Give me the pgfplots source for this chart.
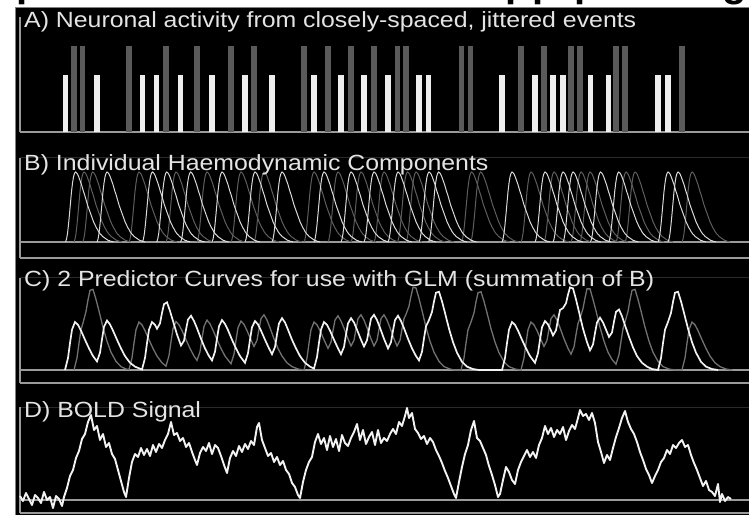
\documentclass[border=0pt]{standalone}
\usepackage{fontspec}
\setmainfont{Liberation Sans}
\newfontfamily\titlefont{Liberation Sans}[FakeStretch=1.13]
\usepackage{pgfplots}
\usepackage{pgfplotstable}
\pgfplotsset{compat=1.18}
\definecolor{barwhite}{HTML}{EEEEEE}
\definecolor{bargray}{HTML}{5A5A5A}
\definecolor{axgray}{HTML}{9A9A9A}
\definecolor{faint}{HTML}{2A2A2A}
\definecolor{curvewhite}{HTML}{DADADA}
\definecolor{curvegray}{HTML}{5E5E5E}
\definecolor{sumwhite}{HTML}{F2F2F2}
\definecolor{sumgray}{HTML}{727272}
\definecolor{titlecol}{HTML}{E4E4E4}

% single haemodynamic response shape (offset in px after onset, relative amplitude)
\pgfplotstableread{
d f
0 0.00
1 0.04
2 0.12
3 0.25
4 0.40
5 0.56
6 0.72
7 0.84
8 0.93
9 0.98
10 1.00
11 0.99
12 0.97
13 0.94
14 0.90
15 0.86
16 0.82
17 0.77
18 0.72
19 0.68
20 0.63
21 0.58
22 0.53
23 0.49
24 0.45
25 0.41
26 0.37
27 0.33
28 0.29
29 0.26
30 0.23
31 0.20
32 0.18
33 0.15
34 0.13
35 0.11
36 0.10
37 0.08
38 0.07
39 0.06
40 0.05
41 0.04
42 0.03
43 0.02
44 0.02
45 0.01
46 0.01
47 0.005
48 0.00
}\hrf

\pgfplotstableread{
x h
20 4
23 -1
26 7
29 1
32 -5
35 5
38 2
41 -3
44 8
47 0
50 3
53 -8
56 4
59 1
62 -6
64 3
67 12
70 24
73 30
76 42
79 49
82 61
85 66
88 78
91 85
94 70
97 74
100 60
103 66
106 53
109 57
112 46
115 41
118 30
121 19
124 8
126 3
129 22
132 38
135 46
138 43
141 52
144 45
147 51
150 44
153 55
156 48
159 56
162 52
165 60
168 66
171 78
174 65
177 67
180 59
183 62
186 53
189 57
192 48
195 40
197 35
200 47
203 53
206 49
209 57
212 46
215 55
218 52
221 44
224 35
227 27
230 42
233 49
236 44
239 54
242 48
245 56
248 51
251 59
254 55
257 73
259 77
262 60
265 52
268 44
271 47
274 38
277 43
280 35
283 39
286 30
289 26
292 17
295 13
298 5
300 2
303 18
306 30
309 38
312 43
315 58
318 66
321 56
324 62
327 50
330 64
333 53
336 61
339 49
342 65
345 57
348 54
351 62
354 68
357 76
360 60
363 70
366 56
369 63
372 68
375 55
378 70
381 57
384 62
387 59
390 66
393 71
396 66
399 78
402 74
405 84
407 92
409 82
412 87
415 71
418 67
421 61
424 64
427 56
430 62
433 58
436 50
439 44
442 37
445 29
448 22
451 14
454 6
456 2
459 18
462 33
465 46
468 55
471 70
474 79
477 62
480 59
483 52
486 45
489 34
492 25
495 15
498 3
500 6
503 20
506 33
509 28
512 20
515 16
518 30
521 38
524 44
527 50
530 43
533 48
536 42
539 55
542 62
545 74
548 66
551 72
554 63
557 70
560 66
563 73
566 60
569 69
572 75
575 71
578 82
580 90
583 84
586 86
589 80
592 87
595 77
598 58
601 48
604 37
607 45
610 40
613 52
616 63
619 72
622 82
625 89
628 78
631 71
634 66
637 58
640 48
643 40
646 31
649 25
652 17
655 24
658 30
661 38
664 42
667 50
670 46
673 55
676 52
679 57
682 60
685 53
688 55
691 45
694 37
697 30
700 22
703 14
706 19
709 10
712 8
715 4
718 16
720 -2
722 6
725 -1
728 3
731 1
}\bold

\pgfplotsset{panel/.style={scale only axis, width=729bp, xmin=20, xmax=749,
  hide axis, clip=false, anchor=south west}}

\begin{document}
\begin{tikzpicture}
\useasboundingbox (0,0) rectangle (749bp,515bp);
\fill[white] (0,0) rectangle (749bp,515bp);
\fill[black] (15bp,0) rectangle (749bp,508bp);
\draw[gray, line width=0.8bp] (15.5bp,0) -- (15.5bp,508bp) -- (749bp,508bp);
\begin{scope}
\clip (0,508.5bp) rectangle (749bp,515bp);
\foreach \px/\ch in {29/p,518/p,545/p,587/p,735/g}
  \node[anchor=base, inner sep=0, font=\fontsize{40bp}{44bp}\selectfont\bfseries] at (\px bp,518bp) {\ch};
\end{scope}

% ---------------- A
\begin{axis}[panel, at={(20bp,383bp)}, height=117bp, ymin=0, ymax=2.0526]
\draw[axgray, line width=1.5bp] (20,0) -- (749,0);
\draw[axgray, line width=1.5bp] (20,0) -- (20,2.0175);
\addplot[ycomb, bargray, line width=5.5bp, mark=none] coordinates {
(74,1.5) (82.7,1.5) (129,1.5) (166,1.5) (197,1.5) (231,1.5) (254,1.5) (304,1.5)
(328,1.5) (351,1.5) (374,1.5) (397.5,1.5) (406,1.5) (461.5,1.5) (470.6,1.5)
(521,1.5) (544,1.5) (571,1.5) (580,1.5) (616,1.5) (625,1.5) (682,1.5)};
\addplot[ycomb, barwhite, line width=5.5bp, mark=none] coordinates {
(65.5,1) (97,1) (142.4,1) (156.7,1) (180.6,1) (212,1) (245,1) (272,1)
(314,1) (341,1) (364,1) (388,1) (419,1) (428.6,1) (502,1) (535,1)
(553,1) (563,1) (590.5,1) (608.7,1) (658,1) (668,1)};
\end{axis}

% ---------------- B
\begin{axis}[panel, at={(20bp,257bp)}, height=100bp, ymin=-0.22857, ymax=1.2]
\draw[faint, line width=1bp] (20,1.2) -- (749,1.2);
\draw[axgray, line width=1.5bp] (20,0) -- (749,0);
\draw[axgray, line width=1.5bp] (20,-0.22857) -- (749,-0.22857);
\draw[axgray, line width=1.5bp] (20,-0.22857) -- (20,1.2);
\pgfplotsinvokeforeach{74,82.7,129,166,197,231,254,304,328,351,374,397.5,406,461.5,470.6,521,544,571,580,616,625,682}{
  \addplot[curvegray, line width=1bp, mark=none] table[x expr=\thisrow{d}+#1, y=f] {\hrf};
}
\pgfplotsinvokeforeach{65.5,97,142.4,156.7,180.6,212,245,272,314,341,364,388,419,428.6,502,535,553,563,590.5,608.7,658,668}{
  \addplot[curvewhite, line width=1bp, mark=none] table[x expr=\thisrow{d}+#1, y=f] {\hrf};
}
\end{axis}

% ---------------- C
\begin{axis}[panel, at={(20bp,132bp)}, height=105bp, ymin=-0.27083, ymax=1.91667]
\draw[faint, line width=1bp] (20,1.91667) -- (749,1.91667);
\draw[axgray, line width=1.5bp] (20,0) -- (749,0);
\draw[axgray, line width=1.5bp] (20,-0.27083) -- (749,-0.27083);
\draw[axgray, line width=1.5bp] (20,-0.27083) -- (20,1.91667);
\addplot[sumgray, line width=1.3bp, mark=none] coordinates {
(74,0) (77,.25) (79,.56) (81,.84) (83,.98) (86,1.22) (88,1.46) (90,1.66) (93,1.68) (96,1.47) (99,1.23) (103,.89) (107,.60) (111,.37) (116,.18) (121,.07) (126,.02) (129,.01) (132,.25) (134,.56) (136,.84) (139,1.00) (142,.94) (145,.82) (149,.63) (153,.45) (157,.29) (162,.15) (166,.08) (169,.30) (171,.59) (173,.86) (176,1.01) (179,.94) (182,.82) (186,.63) (190,.45) (194,.29) (197,.20) (200,.38) (202,.66) (204,.91) (207,1.04) (210,.96) (213,.83) (217,.63) (221,.45) (225,.29) (231,.13) (234,.33) (236,.62) (238,.88) (241,1.02) (244,.95) (247,.82) (251,.63) (254,.49) (257,.62) (259,.85) (261,1.07) (264,1.15) (267,1.04) (270,.88) (274,.65) (278,.45) (282,.29) (287,.15) (292,.07) (298,.02) (304,0) (307,.25) (309,.56) (311,.84) (314,1.00) (317,.94) (320,.82) (324,.63) (328,.45) (331,.58) (333,.82) (335,1.04) (338,1.13) (341,1.02) (344,.87) (348,.65) (351,.50) (354,.62) (356,.85) (358,1.07) (361,1.15) (364,1.04) (367,.88) (371,.65) (374,.50) (377,.62) (379,.85) (381,1.07) (384,1.15) (387,1.04) (390,.88) (394,.65) (397,.50) (400,.62) (402,.85) (404,1.07) (406,1.16) (409,1.33) (411,1.54) (413,1.72) (416,1.71) (419,1.49) (422,1.24) (426,.89) (430,.60) (434,.37) (439,.18) (444,.07) (450,.02) (455,0) (461,0) (464,.25) (466,.56) (468,.84) (471,1.00) (474,1.19) (476,1.42) (478,1.61) (481,1.63) (484,1.43) (487,1.19) (491,.86) (495,.58) (499,.36) (504,.17) (509,.07) (515,.02) (521,0) (524,.25) (526,.56) (528,.84) (531,1.00) (534,.94) (537,.82) (541,.63) (544,.49) (547,.62) (549,.85) (551,1.07) (554,1.15) (557,1.04) (560,.88) (564,.65) (568,.45) (571,.33) (574,.48) (576,.74) (578,.97) (580,1.08) (583,1.28) (585,1.50) (587,1.69) (590,1.69) (593,1.47) (596,1.23) (600,.89) (604,.60) (608,.37) (612,.22) (616,.12) (619,.32) (621,.60) (623,.86) (625,1.00) (628,1.22) (630,1.46) (632,1.66) (635,1.68) (638,1.47) (641,1.23) (645,.89) (649,.60) (653,.37) (658,.18) (663,.07) (669,.02) (675,0) (682,0) (685,.25) (687,.56) (689,.84) (692,1.00) (695,.94) (698,.82) (702,.63) (706,.45) (710,.29) (715,.15) (720,.07) (726,.02) (732,0)};
\addplot[sumwhite, line width=1.7bp, mark=none] coordinates {
(65,0) (68,.25) (70,.56) (72,.84) (75,1.00) (78,.94) (81,.82) (85,.63) (89,.45) (93,.29) (97,.18) (100,.36) (102,.64) (104,.90) (107,1.03) (110,.95) (113,.82) (117,.63) (121,.45) (125,.29) (130,.15) (135,.07) (142,.01) (145,.25) (147,.56) (149,.84) (152,1.00) (155,.94) (157,.86) (160,.97) (162,1.19) (164,1.37) (167,1.41) (170,1.23) (173,1.02) (177,.74) (181,.51) (184,.61) (186,.84) (188,1.05) (191,1.13) (194,1.02) (197,.87) (201,.65) (205,.45) (209,.29) (212,.20) (215,.38) (217,.66) (219,.91) (222,1.04) (225,.96) (228,.83) (232,.63) (236,.45) (240,.29) (245,.15) (248,.35) (250,.63) (252,.89) (255,1.02) (258,.95) (261,.82) (265,.63) (269,.45) (272,.33) (275,.48) (277,.74) (279,.97) (282,1.08) (285,.99) (288,.84) (292,.63) (296,.45) (300,.29) (305,.15) (310,.07) (314,.03) (317,.27) (319,.57) (321,.84) (324,1.00) (327,.94) (330,.82) (334,.63) (338,.45) (341,.33) (344,.48) (346,.74) (348,.97) (351,1.08) (354,.99) (357,.84) (361,.63) (364,.49) (367,.62) (369,.85) (371,1.07) (374,1.15) (377,1.04) (380,.88) (384,.65) (388,.45) (391,.58) (393,.82) (395,1.04) (398,1.13) (401,1.02) (404,.87) (408,.65) (412,.45) (416,.29) (419,.20) (422,.38) (424,.66) (426,.91) (429,1.04) (432,1.21) (434,1.43) (436,1.61) (439,1.63) (442,1.43) (445,1.19) (449,.86) (453,.58) (457,.36) (462,.17) (467,.07) (473,.02) (479,0) (502,0) (505,.25) (507,.56) (509,.84) (512,1.00) (515,.94) (518,.82) (522,.63) (526,.45) (530,.29) (535,.15) (538,.35) (540,.63) (542,.89) (545,1.02) (548,.95) (551,.82) (553,.72) (556,.83) (558,1.05) (560,1.25) (563,1.29) (566,1.39) (568,1.57) (570,1.72) (573,1.70) (576,1.47) (579,1.21) (583,.86) (587,.58) (590,.41) (593,.53) (595,.77) (597,.99) (600,1.09) (603,.99) (606,.84) (609,.69) (612,.78) (614,1.01) (616,1.21) (619,1.26) (622,1.12) (625,.93) (629,.69) (633,.47) (637,.29) (642,.15) (647,.07) (652,.02) (658,0) (661,.25) (663,.56) (665,.84) (668,1.00) (671,1.19) (673,1.42) (675,1.61) (678,1.63) (681,1.43) (684,1.19) (688,.86) (692,.58) (696,.36) (701,.17) (706,.07) (712,.02) (718,0)};
\end{axis}

% ---------------- D
\begin{axis}[panel, at={(20bp,2bp)}, height=106bp, ymin=-13, ymax=93]
\draw[faint, line width=1bp] (20,93) -- (749,93);
\draw[axgray, line width=1.5bp] (20,0) -- (749,0);
\draw[axgray, line width=1.5bp] (20,-13) -- (749,-13);
\draw[axgray, line width=1.5bp] (20,-13) -- (20,93);
\addplot[sumwhite, line width=1.9bp, mark=none, line join=round] table[x=x, y=h] {\bold};
\end{axis}

% titles
\begin{scope}[every node/.style={anchor=base west, inner sep=0, text=titlecol,
   font=\titlefont\fontsize{22bp}{26bp}\selectfont}]
\node at (24bp,487.5bp) {A) Neuronal activity from closely-spaced, jittered events};
\node at (24bp,344.5bp) {B) Individual Haemodynamic Components};
\node at (24bp,228bp) {C) 2 Predictor Curves for use with GLM (summation of B)};
\node at (24bp,97bp) {D) BOLD Signal};
\end{scope}
\end{tikzpicture}
\end{document}
